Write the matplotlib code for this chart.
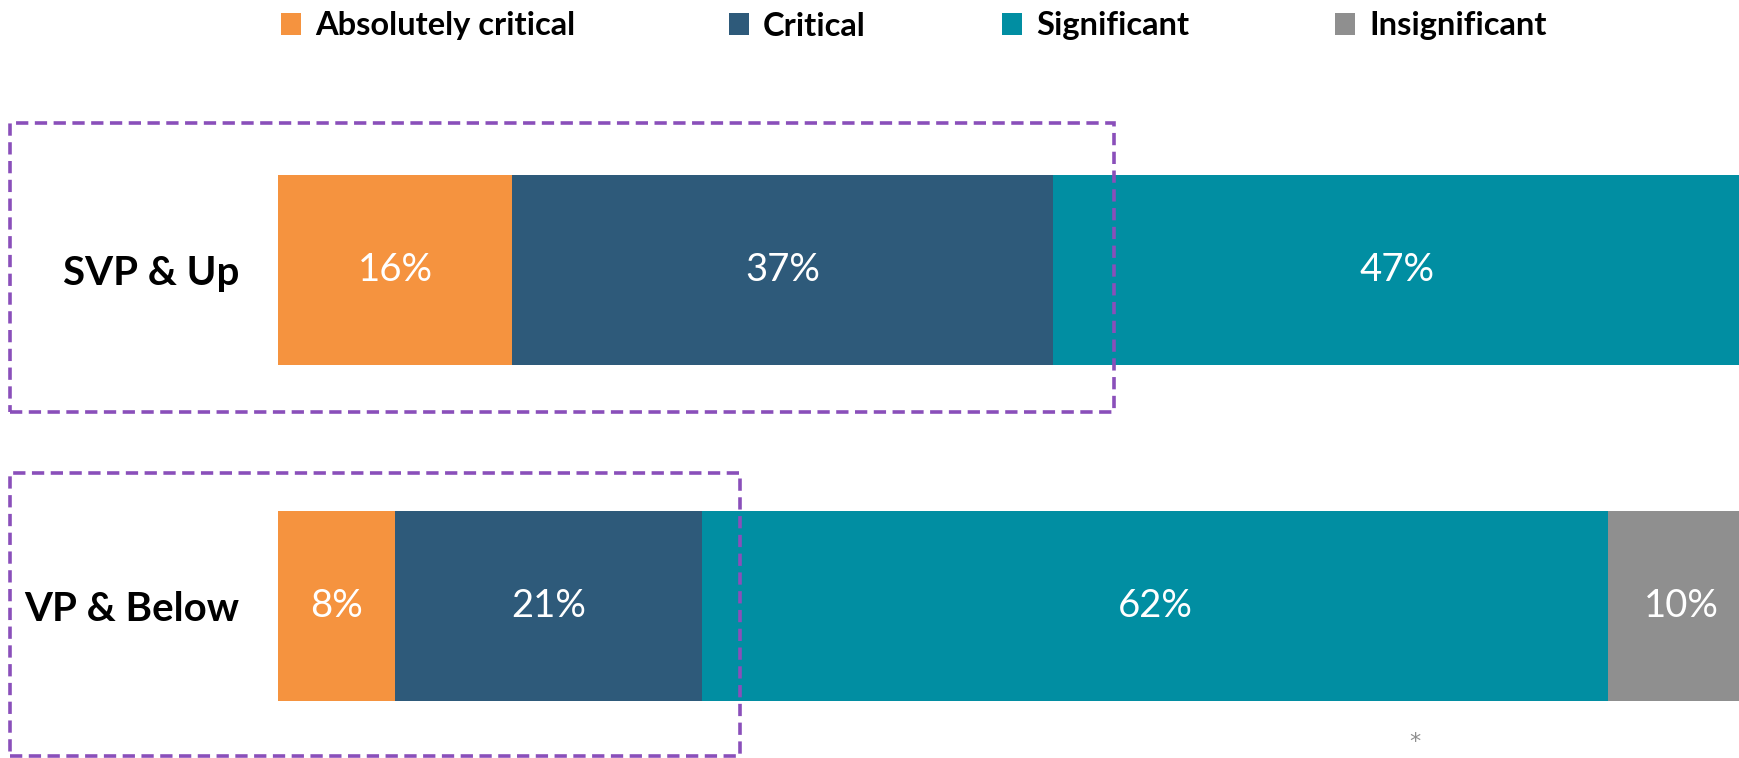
import matplotlib
matplotlib.use("Agg")
import matplotlib.pyplot as plt
from matplotlib.patches import Patch, Rectangle
import numpy as np

plt.rcParams['font.family'] = ['Lato', 'DejaVu Sans']

# share of respondents per rating, by seniority
groups = ["SVP & Up", "VP & Below"]
ratings = ["Absolutely critical", "Critical", "Significant", "Insignificant"]
absolutely_critical = [16, 8]
critical = [37, 21]
significant = [47, 62]
insignificant = [0, 10]
colors = ["#F5933F", "#2E5A7A", "#018EA2", "#8F8F8F"]

series = [absolutely_critical, critical, significant, insignificant]

W, H = 1740, 758
fig = plt.figure(figsize=(W / 100, H / 100), dpi=100)
ax = fig.add_axes([278.5 / W, 0, 1 - 278.5 / W, 1])

y = np.arange(len(groups))
left = np.zeros(len(groups))
for vals, col in zip(series, colors):
    vals = np.array(vals, dtype=float)
    ax.barh(y, vals, left=left, height=0.566, color=col, edgecolor="none")
    for yi, v, l in zip(y, vals, left):
        if v > 0:
            ax.text(l + v / 2, yi, f"{int(v)}%", ha="center", va="center",
                    color="white", fontsize=27.5)
    left = left + vals

ax.set_xlim(0, 100)
ax.set_ylim(1.452, -0.804)
ax.set_yticks(y)
ax.set_yticklabels(groups, fontsize=29, fontweight="bold")
ax.tick_params(axis="y", length=0, pad=28)
ax.set_xticks([])
for s in ax.spines.values():
    s.set_visible(False)

# dashed highlight boxes around the two leading segments
purple = "#8A4FBA"
for (x0, y0, x1, y1) in [(10, 123, 1114, 412), (10, 473, 740, 756)]:
    fig.patches.append(Rectangle((x0 / W, 1 - y1 / H), (x1 - x0) / W, (y1 - y0) / H,
                                 transform=fig.transFigure, fill=False,
                                 edgecolor=purple, lw=2.6,
                                 linestyle=(0, (3.4, 1.8)), zorder=5))

# legend entries placed one by one along the top
legend_x = [281, 729, 1002, 1335]
for name, col, lx in zip(ratings, colors, legend_x):
    leg = fig.legend([Patch(facecolor=col, edgecolor="none")], [name],
                     loc="center left", bbox_to_anchor=(lx / W, 1 - 26 / H),
                     frameon=False, borderpad=0, borderaxespad=0,
                     prop={"weight": "bold", "size": 23.5},
                     handlelength=0.62, handleheight=0.62, handletextpad=0.42)

fig.text(1415 / W, 1 - 742 / H, "*", color="#8F8F8F", fontsize=16,
         family="DejaVu Sans", ha="center", va="center")

fig.savefig("out.png", dpi=100)
